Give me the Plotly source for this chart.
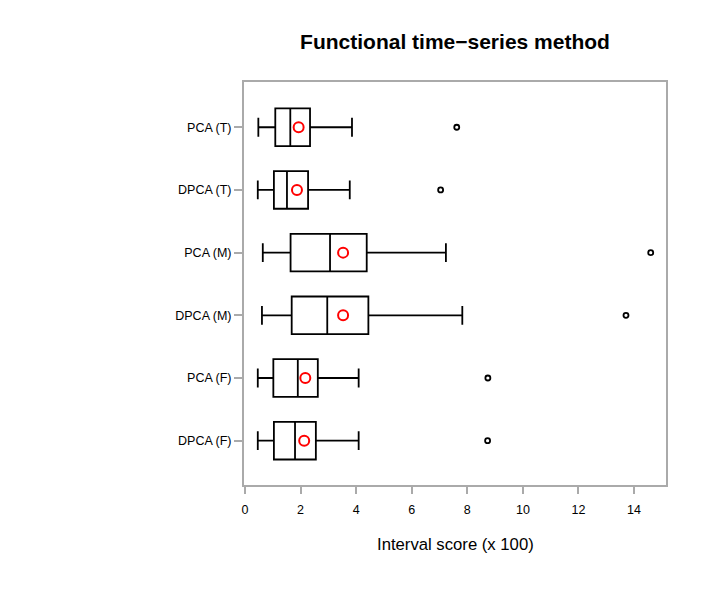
import plotly.graph_objects as go

categories = ["DPCA (F)", "PCA (F)", "DPCA (M)", "PCA (M)", "DPCA (T)", "PCA (T)"]
lower_whisker = [0.46, 0.46, 0.61, 0.64, 0.46, 0.48]
q1 = [1.04, 1.02, 1.68, 1.64, 1.04, 1.09]
median = [1.80, 1.90, 2.96, 3.06, 1.51, 1.63]
q3 = [2.55, 2.62, 4.44, 4.38, 2.27, 2.34]
upper_whisker = [4.09, 4.09, 7.82, 7.23, 3.77, 3.85]
means = [2.13, 2.17, 3.53, 3.53, 1.87, 1.93]
outliers = [8.73, 8.74, 13.71, 14.60, 7.04, 7.62]

positions = list(range(1, len(categories) + 1))

fig = go.Figure()
for i, cat in enumerate(categories):
    fig.add_trace(go.Box(
        y=[positions[i]], q1=[q1[i]], median=[median[i]], q3=[q3[i]],
        lowerfence=[lower_whisker[i]], upperfence=[upper_whisker[i]],
        orientation="h", width=0.6, whiskerwidth=0.5,
        fillcolor="white", line=dict(color="black", width=1.8),
        boxpoints=False, name=cat, showlegend=False, hoverinfo="skip",
    ))

fig.add_trace(go.Scatter(
    x=outliers, y=positions, mode="markers", showlegend=False,
    marker=dict(symbol="circle-open", size=5, color="black", line=dict(width=1.8)),
))
fig.add_trace(go.Scatter(
    x=means, y=positions, mode="markers", showlegend=False,
    marker=dict(symbol="circle-open", size=10, color="red", line=dict(width=2)),
))

font_family = "Liberation Sans, Arial, Helvetica, sans-serif"
fig.update_layout(
    width=709, height=590,
    margin=dict(l=244, r=43, t=82, b=105),
    plot_bgcolor="white", paper_bgcolor="white",
    font=dict(family=font_family, color="black", size=12.5),
    title=dict(text="<b>Functional time\u2212series method</b>", xref="paper", x=0.5,
               yref="container", y=1 - 42 / 590, yanchor="middle", xanchor="center",
               font=dict(size=21, family=font_family, color="black")),
    xaxis=dict(range=[-0.036, 15.15], tickvals=[0, 2, 4, 6, 8, 10, 12, 14],
               ticks="outside", ticklen=7, tickcolor="#aaaaaa", tickwidth=1.5,
               ticklabelstandoff=5,
               showline=True, mirror=True, linecolor="#aaaaaa", linewidth=2,
               showgrid=False, zeroline=False, tickfont=dict(size=12.5)),
    yaxis=dict(range=[0.293, 6.722], tickvals=positions, ticktext=categories,
               ticks="outside", ticklen=8, tickcolor="#aaaaaa", tickwidth=1.5,
               ticklabelstandoff=0,
               showline=True, mirror=True, linecolor="#aaaaaa", linewidth=2,
               showgrid=False, zeroline=False, tickfont=dict(size=12.5)),
    annotations=[dict(text="Interval score (x 100)", xref="paper", yref="paper",
                      x=0.5, y=(485 - 544) / 403, xanchor="center", yanchor="middle",
                      showarrow=False, font=dict(size=16.7, family=font_family))],
)

fig.write_html("out.html")
